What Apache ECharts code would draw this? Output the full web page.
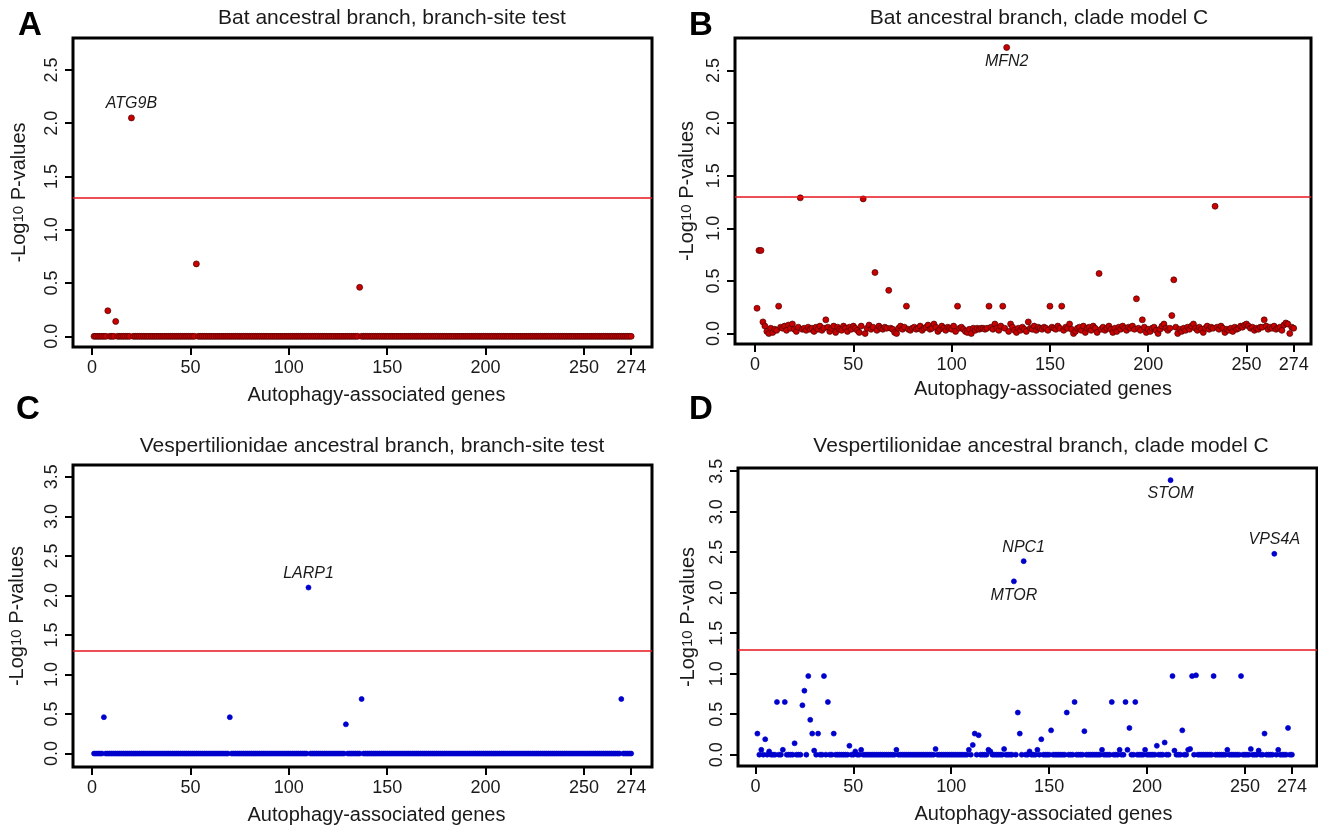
<!DOCTYPE html>
<html>
<head>
<meta charset="utf-8">
<title>Autophagy genes selection tests</title>
<script src="https://cdn.jsdelivr.net/npm/echarts@6.0.0/dist/echarts.min.js"></script>
<style>
  html, body { margin: 0; padding: 0; background: #fff; }
  #main { width: 1318px; height: 826px; }
</style>
</head>
<body>
<div id="main"></div>
<script>
// -log10 P-values for the 274 autophagy-associated genes (gene 1..274)
const batBranchSite = [
  0, 0, 0, 0, 0, 0, 0, 0.24, 0, 0, 0, 0.14, 0, 0, 0, 0, 0, 0, 0, 2.05,
  0, 0, 0, 0, 0, 0, 0, 0, 0, 0, 0, 0, 0, 0, 0, 0, 0, 0, 0, 0,
  0, 0, 0, 0, 0, 0, 0, 0, 0, 0, 0, 0, 0.68, 0, 0, 0, 0, 0, 0, 0,
  0, 0, 0, 0, 0, 0, 0, 0, 0, 0, 0, 0, 0, 0, 0, 0, 0, 0, 0, 0,
  0, 0, 0, 0, 0, 0, 0, 0, 0, 0, 0, 0, 0, 0, 0, 0, 0, 0, 0, 0,
  0, 0, 0, 0, 0, 0, 0, 0, 0, 0, 0, 0, 0, 0, 0, 0, 0, 0, 0, 0,
  0, 0, 0, 0, 0, 0, 0, 0, 0, 0, 0, 0, 0, 0, 0, 0.46, 0, 0, 0, 0,
  0, 0, 0, 0, 0, 0, 0, 0, 0, 0, 0, 0, 0, 0, 0, 0, 0, 0, 0, 0,
  0, 0, 0, 0, 0, 0, 0, 0, 0, 0, 0, 0, 0, 0, 0, 0, 0, 0, 0, 0,
  0, 0, 0, 0, 0, 0, 0, 0, 0, 0, 0, 0, 0, 0, 0, 0, 0, 0, 0, 0,
  0, 0, 0, 0, 0, 0, 0, 0, 0, 0, 0, 0, 0, 0, 0, 0, 0, 0, 0, 0,
  0, 0, 0, 0, 0, 0, 0, 0, 0, 0, 0, 0, 0, 0, 0, 0, 0, 0, 0, 0,
  0, 0, 0, 0, 0, 0, 0, 0, 0, 0, 0, 0, 0, 0, 0, 0, 0, 0, 0, 0,
  0, 0, 0, 0, 0, 0, 0, 0, 0, 0, 0, 0, 0, 0
];

const batCladeC = [
  0.24, 0.79, 0.79, 0.11, 0.07, 0.02, 0.00, 0.05, 0.01, 0.04,
  0.03, 0.26, 0.06, 0.05, 0.07, 0.03, 0.08, 0.05, 0.09, 0.04,
  0.02, 0.06, 1.29, 0.04, 0.05, 0.03, 0.06, 0.04, 0.05, 0.02,
  0.06, 0.04, 0.07, 0.03, 0.05, 0.13, 0.06, 0.02, 0.05, 0.07,
  0.01, 0.06, 0.04, 0.03, 0.07, 0.05, 0.02, 0.06, 0.04, 0.07,
  0.05, 0.03, 0.01, 0.07, 1.28, 0.00, 0.05, 0.08, 0.04, 0.06,
  0.58, 0.03, 0.07, 0.05, 0.04, 0.06, 0.05, 0.41, 0.05, 0.04,
  0.01, 0.00, 0.05, 0.07, 0.04, 0.06, 0.26, 0.04, 0.03, 0.05,
  0.06, 0.04, 0.05, 0.07, 0.03, 0.05, 0.06, 0.08, 0.04, 0.05,
  0.09, 0.06, 0.02, 0.04, 0.07, 0.05, 0.03, 0.06, 0.05, 0.04,
  0.07, 0.02, 0.26, 0.05, 0.06, 0.04, 0.02, 0.01, 0.04, 0.00,
  0.05, 0.03, 0.05, 0.04, 0.05, 0.05, 0.04, 0.05, 0.26, 0.06,
  0.04, 0.09, 0.05, 0.03, 0.07, 0.26, 0.05, 2.72, 0.02, 0.09,
  0.06, 0.03, 0.01, 0.05, 0.03, 0.06, 0.04, 0.02, 0.11, 0.05,
  0.04, 0.07, 0.03, 0.06, 0.05, 0.04, 0.06, 0.05, 0.03, 0.26,
  0.06, 0.05, 0.04, 0.07, 0.05, 0.26, 0.03, 0.06, 0.05, 0.09,
  0.04, 0.00, 0.02, 0.05, 0.06, 0.03, 0.07, 0.01, 0.05, 0.06,
  0.03, 0.07, 0.05, 0.01, 0.57, 0.04, 0.06, 0.03, 0.05, 0.07,
  0.04, 0.01, 0.05, 0.02, 0.06, 0.04, 0.07, 0.05, 0.03, 0.06,
  0.05, 0.07, 0.04, 0.33, 0.05, 0.03, 0.13, 0.06, 0.01, 0.04,
  0.02, 0.05, 0.06, 0.03, 0.00, 0.04, 0.07, 0.09, 0.05, 0.03,
  0.05, 0.17, 0.51, 0.06, 0.00, 0.04, 0.02, 0.05, 0.03, 0.06,
  0.04, 0.07, 0.09, 0.05, 0.03, 0.06, 0.04, 0.01, 0.05, 0.07,
  0.04, 0.06, 0.05, 1.21, 0.06, 0.04, 0.07, 0.05, 0.01, 0.04,
  0.03, 0.05, 0.02, 0.06, 0.04, 0.05, 0.07, 0.06, 0.08, 0.09,
  0.07, 0.05, 0.06, 0.03, 0.05, 0.04, 0.06, 0.06, 0.13, 0.07,
  0.04, 0.06, 0.05, 0.07, 0.04, 0.05, 0.06, 0.03, 0.08, 0.10,
  0.09, 0.00, 0.06, 0.05
];

const vespBranchSite = [
  0, 0, 0, 0, 0, 0.46, 0, 0, 0, 0, 0, 0, 0, 0, 0, 0, 0, 0, 0, 0,
  0, 0, 0, 0, 0, 0, 0, 0, 0, 0, 0, 0, 0, 0, 0, 0, 0, 0, 0, 0,
  0, 0, 0, 0, 0, 0, 0, 0, 0, 0, 0, 0, 0, 0, 0, 0, 0, 0, 0, 0,
  0, 0, 0, 0, 0, 0, 0, 0, 0, 0.46, 0, 0, 0, 0, 0, 0, 0, 0, 0, 0,
  0, 0, 0, 0, 0, 0, 0, 0, 0, 0, 0, 0, 0, 0, 0, 0, 0, 0, 0, 0,
  0, 0, 0, 0, 0, 0, 0, 0, 0, 2.10, 0, 0, 0, 0, 0, 0, 0, 0, 0, 0,
  0, 0, 0, 0, 0, 0, 0, 0, 0.37, 0, 0, 0, 0, 0, 0, 0, 0.69, 0, 0, 0,
  0, 0, 0, 0, 0, 0, 0, 0, 0, 0, 0, 0, 0, 0, 0, 0, 0, 0, 0, 0,
  0, 0, 0, 0, 0, 0, 0, 0, 0, 0, 0, 0, 0, 0, 0, 0, 0, 0, 0, 0,
  0, 0, 0, 0, 0, 0, 0, 0, 0, 0, 0, 0, 0, 0, 0, 0, 0, 0, 0, 0,
  0, 0, 0, 0, 0, 0, 0, 0, 0, 0, 0, 0, 0, 0, 0, 0, 0, 0, 0, 0,
  0, 0, 0, 0, 0, 0, 0, 0, 0, 0, 0, 0, 0, 0, 0, 0, 0, 0, 0, 0,
  0, 0, 0, 0, 0, 0, 0, 0, 0, 0, 0, 0, 0, 0, 0, 0, 0, 0, 0, 0,
  0, 0, 0, 0, 0, 0, 0, 0, 0.69, 0, 0, 0, 0, 0
];

const vespCladeC = [
  0.26, 0, 0.06, 0, 0.19, 0, 0.04, 0, 0, 0, 0.65, 0, 0, 0.06, 0.65, 0, 0, 0, 0, 0.14,
  0, 0, 0, 0.61, 0.79, 0, 0.97, 0.43, 0.26, 0.05, 0, 0.26, 0, 0, 0.97, 0, 0.65, 0, 0, 0.26,
  0, 0, 0, 0, 0, 0, 0, 0.11, 0, 0, 0.04, 0, 0, 0.06, 0, 0, 0, 0, 0, 0,
  0, 0, 0, 0, 0, 0, 0, 0, 0, 0, 0, 0.06, 0, 0, 0, 0, 0, 0, 0, 0,
  0, 0, 0, 0, 0, 0, 0, 0, 0, 0, 0, 0.07, 0, 0, 0, 0, 0, 0, 0, 0,
  0, 0, 0, 0, 0, 0, 0, 0, 0.06, 0, 0.12, 0.26, 0, 0.24, 0, 0, 0, 0, 0.06, 0.04,
  0, 0, 0, 0, 0, 0, 0.07, 0, 0, 0, 0, 2.14, 0, 0.52, 0.26, 0, 2.39, 0, 0, 0.04,
  0, 0, 0, 0.06, 0, 0.19, 0, 0, 0, 0, 0.30, 0, 0, 0, 0, 0, 0, 0, 0.52, 0,
  0, 0, 0.65, 0, 0, 0, 0, 0.29, 0, 0, 0, 0, 0, 0, 0, 0, 0.06, 0, 0, 0,
  0, 0.65, 0, 0, 0, 0.06, 0, 0, 0.65, 0.06, 0.33, 0, 0, 0.65, 0, 0, 0, 0, 0.06, 0,
  0, 0, 0, 0, 0.11, 0, 0, 0, 0.15, 0, 0, 3.39, 0.97, 0.05, 0, 0, 0, 0.30, 0, 0,
  0.06, 0.07, 0.97, 0, 0.98, 0, 0, 0, 0, 0, 0, 0, 0, 0.97, 0, 0, 0, 0, 0, 0,
  0.06, 0, 0, 0, 0, 0, 0, 0.97, 0, 0, 0, 0, 0.07, 0, 0, 0, 0.05, 0, 0, 0.26,
  0, 0, 0, 0, 2.48, 0, 0.06, 0, 0, 0, 0, 0.33, 0, 0
];

// named genes (gene number, name, label side)
const batBranchSiteGenes = [{ idx: 20, gene: 'ATG9B', pos: 'top' }];
const batCladeCGenes = [{ idx: 128, gene: 'MFN2', pos: 'bottom' }];
const vespBranchSiteGenes = [{ idx: 110, gene: 'LARP1', pos: 'top' }];
const vespCladeCGenes = [
  { idx: 137, gene: 'NPC1', pos: 'top' },
  { idx: 132, gene: 'MTOR', pos: 'bottom' },
  { idx: 212, gene: 'STOM', pos: 'bottom' },
  { idx: 265, gene: 'VPS4A', pos: 'top' }
];

const titles = [
  'Bat ancestral branch, branch-site test',
  'Bat ancestral branch, clade model C',
  'Vespertilionidae ancestral branch, branch-site test',
  'Vespertilionidae ancestral branch, clade model C'
];
const letters = ['A', 'B', 'C', 'D'];
const xTicks = [0, 50, 100, 150, 200, 250, 274];
const yTicksShort = [0, 0.5, 1, 1.5, 2, 2.5];
const yTicksTall = [0, 0.5, 1, 1.5, 2, 2.5, 3, 3.5];
const threshold = 1.3; // -log10(0.05)

const FONT = '"Liberation Sans", Arial, Helvetica, sans-serif';
const INK = '#1a1a1a';

// layout of the four panels
const panels = [
  { vals: batBranchSite, genes: batBranchSiteGenes, grid: { left: 73, top: 38, width: 579, height: 309 },
    xr: [-9.7, 284.6], yr: [-0.10, 2.80], yTicks: yTicksShort, color: '#c80000', border: '#4a0000', size: 6,
    title: [392, 8], letter: [18, 9], xGap: 38, xShift: 28, yGap: 44 },
  { vals: batCladeC, genes: batCladeCGenes, grid: { left: 735, top: 38, width: 576, height: 306 },
    xr: [-10.2, 282.8], yr: [-0.10, 2.81], yTicks: yTicksShort, color: '#c80000', border: '#4a0000', size: 6,
    title: [1039, 8], letter: [689, 9], xGap: 35, xShift: 40, yGap: 38 },
  { vals: vespBranchSite, genes: vespBranchSiteGenes, grid: { left: 73, top: 465, width: 579, height: 302 },
    xr: [-9.7, 284.6], yr: [-0.17, 3.65], yTicks: yTicksTall, color: '#0000cd', border: '#0000cd', size: 5,
    title: [372, 436], letter: [16, 393], xGap: 38, xShift: 28, yGap: 46 },
  { vals: vespCladeC, genes: vespCladeCGenes, grid: { left: 738, top: 468, width: 579, height: 298 },
    xr: [-8.9, 286.8], yr: [-0.14, 3.54], yTicks: yTicksTall, color: '#0000cd', border: '#0000cd', size: 5,
    title: [1041, 436], letter: [689, 393], xGap: 38, xShift: 32, yGap: 40 }
];

var chartDom = document.getElementById('main');
var myChart = echarts.init(chartDom, null, { renderer: 'canvas' });
var option;

var grids = [], xAxes = [], yAxes = [], series = [], titleList = [];

panels.forEach(function (p, i) {
  grids.push(Object.assign({
    show: true, borderColor: '#000', borderWidth: 3, backgroundColor: 'transparent', containLabel: false
  }, p.grid));

  xAxes.push({
    type: 'value', gridIndex: i, min: p.xr[0], max: p.xr[1], position: 'bottom',
    name: 'Autophagy-associated genes', nameLocation: 'middle', nameGap: p.xGap,
    nameTextStyle: { fontFamily: FONT, fontSize: 20, color: INK, padding: [0, 0, 0, p.xShift] },
    axisLine: { show: true, onZero: false, lineStyle: { color: '#000', width: 1 } },
    splitLine: { show: false },
    axisTick: { show: true, length: 8, customValues: xTicks, lineStyle: { color: '#000', width: 2 } },
    axisLabel: { customValues: xTicks, fontFamily: FONT, fontSize: 18, color: INK, margin: 12 }
  });

  yAxes.push({
    type: 'value', gridIndex: i, min: p.yr[0], max: p.yr[1], position: 'left',
    name: '-Log{s|10} P-values', nameLocation: 'middle', nameGap: p.yGap, nameRotate: 90,
    nameTextStyle: { fontFamily: FONT, fontSize: 20, color: INK, rich: { s: { fontFamily: FONT, fontSize: 15, color: INK } } },
    axisLine: { show: true, onZero: false, lineStyle: { color: '#000', width: 1 } },
    splitLine: { show: false },
    axisTick: { show: true, length: 8, customValues: p.yTicks, lineStyle: { color: '#000', width: 2 } },
    axisLabel: {
      customValues: p.yTicks, rotate: 90, fontFamily: FONT, fontSize: 18, color: INK, margin: 12,
      formatter: function (v) { return v.toFixed(1); }
    }
  });

  var named = {};
  p.genes.forEach(function (g) { named[g.idx] = g; });
  var data = p.vals.map(function (v, k) {
    var g = named[k + 1];
    if (!g) return [k + 1, v];
    return {
      value: [k + 1, v],
      label: {
        show: true, formatter: g.gene, position: g.pos, distance: 3,
        fontFamily: FONT, fontStyle: 'italic', fontSize: 16, color: INK
      }
    };
  });

  series.push({
    type: 'scatter', xAxisIndex: i, yAxisIndex: i, symbol: 'circle', symbolSize: p.size,
    itemStyle: { color: p.color, borderColor: p.border, borderWidth: 0.7, opacity: 1 },
    data: data,
    silent: true,
    markLine: {
      silent: true, symbol: ['none', 'none'],
      label: { show: false },
      lineStyle: { color: '#e8141b', width: 1.6, type: 'solid' },
      data: [{ yAxis: threshold }]
    }
  });

  titleList.push({
    text: titles[i], left: p.title[0], top: p.title[1], textAlign: 'center', padding: 0,
    textStyle: { fontFamily: FONT, fontSize: 21, fontWeight: 'normal', color: INK }
  });
  titleList.push({
    text: letters[i], left: p.letter[0], top: p.letter[1], padding: 0,
    textStyle: { fontFamily: FONT, fontSize: 33, fontWeight: 'bold', color: '#000' }
  });
});

option = {
  animation: false,
  backgroundColor: '#fff',
  title: titleList,
  grid: grids,
  xAxis: xAxes,
  yAxis: yAxes,
  series: series
};

option && myChart.setOption(option);
</script>
</body>
</html>
